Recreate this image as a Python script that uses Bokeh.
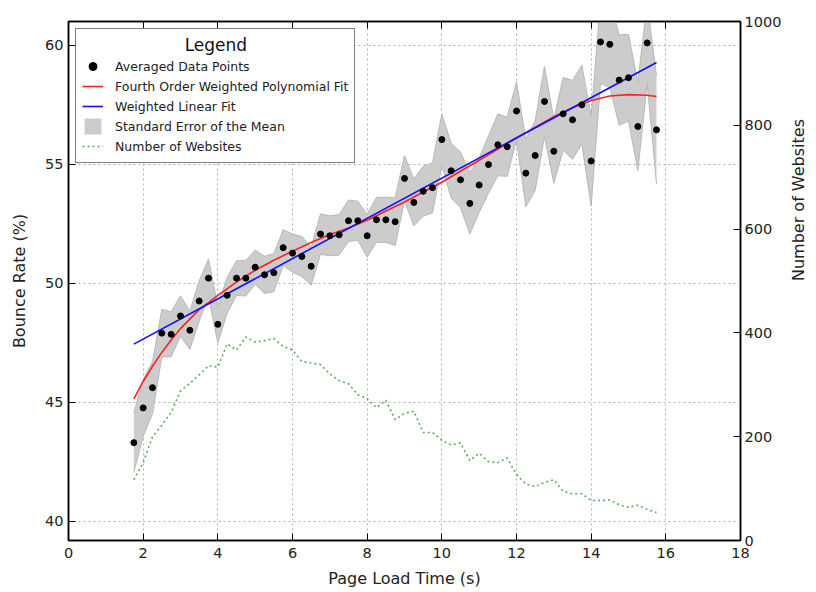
import math
from bokeh.plotting import figure
from bokeh.models import (Range1d, LinearAxis, Legend, LegendItem, FixedTicker,
                          CustomJSTickFormatter)
from bokeh.embed import file_html
from bokeh.resources import INLINE

load_time = [1.75, 2.0, 2.25, 2.5, 2.75, 3.0, 3.25, 3.5, 3.75, 4.0, 4.25, 4.5, 4.75, 5.0,
             5.25, 5.5, 5.75, 6.0, 6.25, 6.5, 6.75, 7.0, 7.25, 7.5, 7.75, 8.0, 8.25, 8.5,
             8.75, 9.0, 9.25, 9.5, 9.75, 10.0, 10.25, 10.5, 10.75, 11.0, 11.25, 11.5, 11.75,
             12.0, 12.25, 12.5, 12.75, 13.0, 13.25, 13.5, 13.75, 14.0, 14.25, 14.5, 14.75,
             15.0, 15.25, 15.5, 15.75]

bounce_rate = [43.31, 44.77, 45.62, 47.91, 47.86, 48.63, 48.03, 49.26, 50.22, 48.28, 49.50,
               50.22, 50.22, 50.68, 50.36, 50.45, 51.50, 51.27, 51.13, 50.72, 52.07, 52.00,
               52.04, 52.63, 52.63, 52.00, 52.67, 52.67, 52.59, 54.41, 53.40, 53.87, 54.02,
               56.04, 54.73, 54.35, 53.36, 54.13, 54.99, 55.82, 55.74, 57.24, 54.63, 55.37,
               57.64, 55.55, 57.12, 56.87, 57.50, 55.14, 60.14, 60.04, 58.54, 58.64, 56.59,
               60.10, 56.45]

sem = [1.25, 1.20, 1.10, 1.00, 0.95, 0.85, 0.80, 0.85, 0.80, 0.78, 0.75, 0.73, 0.75, 0.72,
       0.78, 0.80, 0.75, 0.80, 0.84, 0.80, 0.85, 0.84, 0.85, 0.87, 0.82, 0.90, 0.94, 0.95,
       1.00, 0.96, 0.98, 1.05, 1.05, 1.08, 1.15, 1.17, 1.29, 1.15, 1.20, 1.30, 1.24, 1.23,
       1.41, 1.47, 1.48, 1.35, 1.53, 1.66, 1.66, 1.90, 1.75, 1.80, 1.90, 1.82, 1.86, 1.70,
       2.27]

websites = [117, 150, 200, 222, 247, 288, 303, 319, 337, 334, 379, 367, 392, 382, 385, 389,
            374, 367, 345, 342, 339, 321, 308, 302, 281, 273, 256, 270, 233, 245, 249, 208,
            208, 193, 184, 188, 154, 168, 152, 150, 159, 127, 109, 104, 112, 117, 95, 90, 90,
            77, 77, 78, 69, 64, 68, 60, 54]

poly_x = [1.75, 2.0, 2.25, 2.5, 2.75, 3.0, 3.5, 4.0, 4.5, 5.0, 5.5, 6.0, 6.5, 7.0, 7.5, 8.0,
          9.0, 10.0, 11.0, 12.0, 13.0, 13.5, 14.0, 14.5, 15.0, 15.5, 15.75]
poly_y = [45.15, 45.88, 46.52, 47.10, 47.62, 48.10, 48.90, 49.50, 50.05, 50.55, 50.97, 51.35,
          51.72, 52.05, 52.33, 52.65, 53.42, 54.25, 55.17, 56.11, 57.00, 57.38, 57.68, 57.87,
          57.93, 57.90, 57.85]

lin_x = [1.75, 15.75]
lin_y = [47.45, 59.28]

x_ticks = [0, 2, 4, 6, 8, 10, 12, 14, 16, 18]
y_ticks = [40, 45, 50, 55, 60]
site_ticks = [0, 200, 400, 600, 800, 1000]

upper = [b + s for b, s in zip(bounce_rate, sem)]
lower = [b - s for b, s in zip(bounce_rate, sem)]

FONT = "DejaVu Sans"

p = figure(frame_width=672, frame_height=519,
           x_range=Range1d(0, 18), y_range=Range1d(39.2, 61.0),
           output_backend="svg", toolbar_location=None,
           min_border_left=68, min_border_right=76, min_border_top=21, min_border_bottom=50,
           background_fill_color="white", border_fill_color="white")
p.extra_y_ranges = {"sites": Range1d(0, 1000)}

bottom_axis = p.below[0]
left_axis = p.left[0]

band = p.varea(x=load_time, y1=lower, y2=upper, fill_color="#cccccc", fill_alpha=1.0)
p.line(load_time, upper, line_color="#b8b8b8", line_width=1)
p.line(load_time, lower, line_color="#b8b8b8", line_width=1)

green = p.line(load_time, websites, y_range_name="sites", line_color="#3f9f3f",
               line_width=1.6, line_dash="2 3", line_alpha=0.85)
red = p.line(poly_x, poly_y, line_color="#ff2020", line_width=1.6)
blue = p.line(lin_x, lin_y, line_color="#1010ff", line_width=1.6)
dots = p.scatter(load_time, bounce_rate, size=6, fill_color="black", line_color="black")

right_axis = LinearAxis(y_range_name="sites", axis_label="Number of Websites",
                        ticker=FixedTicker(ticks=site_ticks))
p.add_layout(right_axis, "right")
top_axis = LinearAxis(ticker=FixedTicker(ticks=x_ticks),
                      formatter=CustomJSTickFormatter(code="return ''"))
p.add_layout(top_axis, "above")

bottom_axis.ticker = FixedTicker(ticks=x_ticks)
left_axis.ticker = FixedTicker(ticks=y_ticks)
bottom_axis.axis_label = "Page Load Time (s)"
left_axis.axis_label = "Bounce Rate (%)"

for ax in [bottom_axis, left_axis, right_axis, top_axis]:
    ax.major_tick_in = 7
    ax.major_tick_out = 0
    ax.minor_tick_in = 0
    ax.minor_tick_out = 0
    ax.axis_line_color = "black"
    ax.axis_line_width = 1.5
    ax.major_tick_line_color = "black"
    ax.major_tick_line_width = 1
    ax.major_label_text_font = FONT
    ax.major_label_text_font_size = "14.5px"
    ax.major_label_text_color = "#222222"
    ax.major_label_standoff = 5
    ax.axis_label_text_font = FONT
    ax.axis_label_text_font_size = "16px"
    ax.axis_label_text_font_style = "normal"
    ax.axis_label_text_color = "#222222"
    ax.axis_label_standoff = 13

bottom_axis.major_label_standoff = 7
bottom_axis.axis_label_standoff = 8
right_axis.major_label_standoff = 4
right_axis.axis_label_standoff = 14
top_axis.major_label_standoff = 0
if "axis_label_orientation" in right_axis.properties():
    right_axis.axis_label_orientation = math.pi / 2

p.outline_line_color = "black"
p.outline_line_width = 1.5

p.xgrid.grid_line_color = "#b0b0b0"
p.xgrid.grid_line_dash = "2 3"
p.ygrid.grid_line_color = "#b0b0b0"
p.ygrid.grid_line_dash = "2 3"
p.xgrid.ticker = FixedTicker(ticks=x_ticks)
p.ygrid.ticker = FixedTicker(ticks=y_ticks)

legend = Legend(items=[
    LegendItem(label="Averaged Data Points", renderers=[dots]),
    LegendItem(label="Fourth Order Weighted Polynomial Fit", renderers=[red]),
    LegendItem(label="Weighted Linear Fit", renderers=[blue]),
    LegendItem(label="Standard Error of the Mean", renderers=[band]),
    LegendItem(label="Number of Websites", renderers=[green]),
], location="top_left")
legend.title = "\u00a0" * 19 + "Legend"
legend.title_text_font = FONT
legend.title_text_font_size = "17px"
legend.title_text_font_style = "normal"
legend.title_text_color = "#111111"
legend.title_standoff = 1
legend.label_text_font = FONT
legend.label_text_font_size = "12.5px"
legend.label_text_color = "#222222"
legend.label_standoff = 12
legend.label_height = 20
legend.glyph_height = 20
legend.glyph_width = 21
legend.spacing = 0
legend.padding = 6
legend.margin = 7
legend.border_line_color = "black"
legend.border_line_width = 1.5
legend.background_fill_color = "white"
legend.background_fill_alpha = 1.0
p.add_layout(legend)

open("out.html", "w").write(file_html(p, INLINE))
